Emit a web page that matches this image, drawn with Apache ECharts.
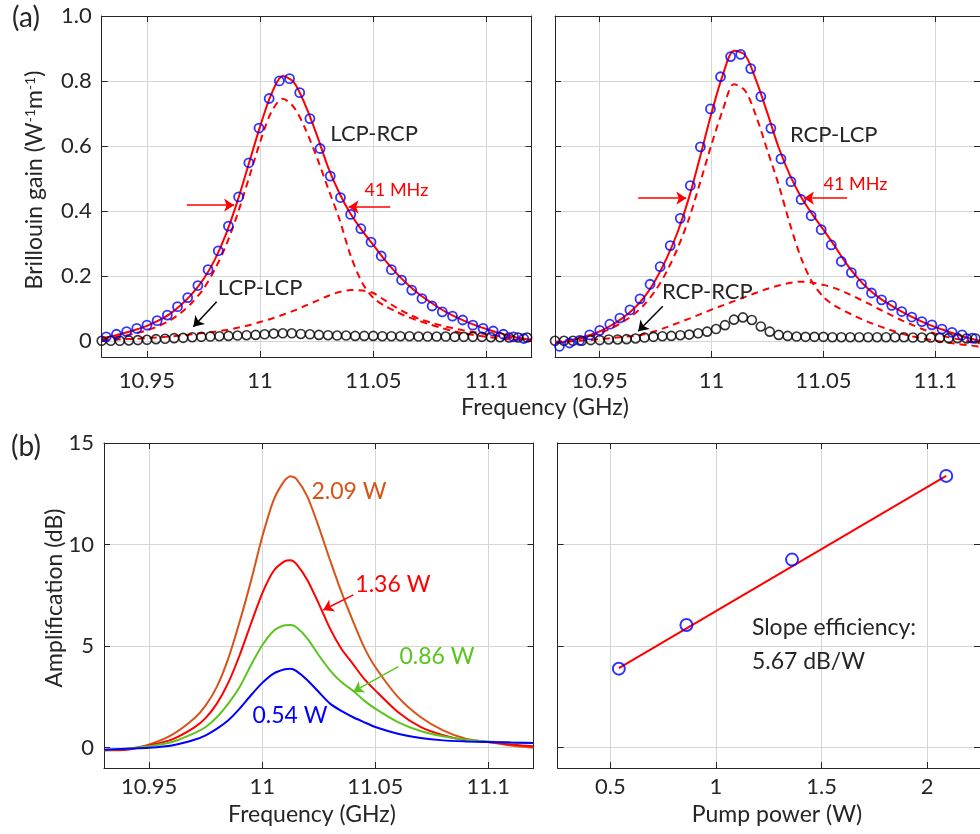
<!DOCTYPE html>
<html><head><meta charset="utf-8">
<script src="https://cdn.jsdelivr.net/npm/echarts@6/dist/echarts.min.js"></script>
<style>html,body{margin:0;padding:0;background:#fff}#main{width:980px;height:834px}</style>
</head><body><div id="main"></div>
<script>
// ---------------- DATA ----------------
// measured frequencies (GHz) of the blue circles (cross-polarised gain)
const fMeasBlue = [10.932,10.9365,10.941,10.9455,10.95,10.9545,10.959,10.9635,10.968,10.9725,10.977,10.9815,10.986,10.9905,10.995,10.9995,11.004,11.0085,11.013,11.0175,11.022,11.0265,11.031,11.0355,11.04,11.0445,11.049,11.0535,11.058,11.0625,11.067,11.0715,11.076,11.0805,11.085,11.0895,11.094,11.0985,11.103,11.1075,11.112,11.1165];
const gainLCPRCP = [0.012,0.02,0.028,0.038,0.048,0.062,0.079,0.105,0.133,0.170,0.219,0.277,0.353,0.443,0.548,0.655,0.746,0.80,0.807,0.764,0.684,0.592,0.507,0.441,0.389,0.345,0.304,0.261,0.219,0.187,0.156,0.130,0.107,0.089,0.076,0.064,0.048,0.038,0.030,0.02,0.012,0.007];
const gainRCPLCP = [-0.017,-0.007,0.001,0.018,0.032,0.051,0.07,0.095,0.129,0.174,0.228,0.293,0.377,0.478,0.597,0.714,0.813,0.875,0.882,0.838,0.752,0.654,0.56,0.49,0.435,0.385,0.342,0.295,0.244,0.21,0.175,0.147,0.126,0.109,0.09,0.073,0.059,0.049,0.036,0.026,0.018,0.008];
// measured frequencies of the black circles (co-polarised gain)
const fMeasBlack = [10.93,10.934,10.938,10.942,10.946,10.95,10.954,10.958,10.962,10.966,10.97,10.974,10.978,10.982,10.986,10.99,10.994,10.998,11.002,11.006,11.01,11.014,11.018,11.022,11.026,11.03,11.034,11.038,11.042,11.046,11.05,11.054,11.058,11.062,11.066,11.07,11.074,11.078,11.082,11.086,11.09,11.094,11.098,11.102,11.106,11.11,11.114,11.118];
const gainLCPLCP = [0,0,0,0.001,0.002,0.003,0.005,0.006,0.008,0.009,0.011,0.012,0.013,0.014,0.015,0.016,0.017,0.018,0.02,0.022,0.023,0.023,0.021,0.02,0.018,0.017,0.016,0.016,0.015,0.015,0.015,0.014,0.014,0.014,0.014,0.013,0.013,0.013,0.013,0.012,0.012,0.012,0.012,0.011,0.011,0.01,0.01,0.01];
const gainRCPRCP = [0,0,0,0,0.002,0.002,0.004,0.004,0.005,0.007,0.010,0.012,0.014,0.015,0.017,0.019,0.023,0.028,0.036,0.048,0.065,0.072,0.064,0.044,0.028,0.018,0.015,0.013,0.012,0.012,0.012,0.011,0.011,0.011,0.011,0.011,0.011,0.011,0.011,0.011,0.01,0.01,0.01,0.009,0.008,0.008,0.007,0.007];
// fitted curves (GHz grid)
const fFit = [10.93,10.935,10.94,10.945,10.95,10.955,10.96,10.965,10.97,10.975,10.98,10.985,10.99,10.995,11.0,11.005,11.01,11.015,11.02,11.025,11.03,11.035,11.04,11.045,11.05,11.055,11.06,11.065,11.07,11.075,11.08,11.085,11.09,11.095,11.1,11.105,11.11,11.115,11.12];
const fitTotalL = [0.008,0.015,0.024,0.034,0.046,0.062,0.082,0.11,0.145,0.19,0.25,0.33,0.43,0.545,0.66,0.76,0.815,0.795,0.725,0.635,0.535,0.455,0.39,0.34,0.295,0.25,0.21,0.175,0.145,0.12,0.097,0.078,0.062,0.048,0.036,0.025,0.016,0.008,0.003];
const fitMainL  = [0.005,0.01,0.015,0.023,0.032,0.045,0.062,0.086,0.118,0.16,0.22,0.295,0.39,0.5,0.612,0.705,0.745,0.718,0.652,0.566,0.47,0.375,0.262,0.18,0.132,0.108,0.09,0.074,0.062,0.05,0.04,0.03,0.023,0.017,0.012,0.008,0.005,0.003,0.001];
const fitSideL  = [0.002,0.003,0.005,0.006,0.008,0.01,0.013,0.016,0.02,0.024,0.028,0.033,0.04,0.048,0.058,0.068,0.08,0.093,0.108,0.123,0.138,0.15,0.156,0.155,0.147,0.125,0.103,0.084,0.068,0.057,0.047,0.039,0.032,0.026,0.02,0.015,0.01,0.007,0.004];
const fitTotalR = [-0.008,-0.002,0.006,0.016,0.029,0.047,0.069,0.097,0.135,0.188,0.255,0.338,0.443,0.57,0.702,0.818,0.893,0.88,0.8,0.7,0.595,0.51,0.443,0.39,0.342,0.292,0.24,0.196,0.16,0.132,0.11,0.09,0.072,0.056,0.042,0.03,0.018,0.008,0.0];
const fitMainR  = [-0.003,0.0,0.005,0.012,0.024,0.038,0.057,0.08,0.112,0.156,0.214,0.288,0.378,0.49,0.605,0.71,0.79,0.77,0.69,0.585,0.48,0.36,0.255,0.18,0.135,0.108,0.09,0.073,0.058,0.045,0.033,0.022,0.013,0.006,0.0,-0.005,-0.01,-0.014,-0.018];
const fitSideR  = [-0.005,-0.003,0.0,0.002,0.005,0.008,0.012,0.015,0.02,0.03,0.042,0.055,0.068,0.082,0.096,0.109,0.122,0.135,0.148,0.16,0.17,0.178,0.182,0.179,0.172,0.162,0.148,0.132,0.115,0.097,0.08,0.063,0.048,0.034,0.022,0.012,0.005,-0.002,-0.008];
// (b) amplification spectra
const fAmp = [10.93,10.94,10.95,10.96,10.97,10.975,10.98,10.985,10.99,10.995,11.0,11.005,11.01,11.0125,11.015,11.02,11.025,11.03,11.035,11.04,11.045,11.05,11.06,11.07,11.08,11.09,11.1,11.11,11.12];
const amp209 = [-0.13,-0.07,0.16,0.63,1.45,2.08,3.02,4.4,6.2,8.2,10.38,12.18,13.17,13.36,13.25,12.35,10.87,9.23,7.67,6.27,4.96,3.97,2.5,1.51,0.85,0.44,0.28,0.11,0.0];
const amp136 = [-0.13,-0.1,0.11,0.4,1.0,1.47,2.18,3.2,4.55,6.1,7.6,8.7,9.18,9.23,9.06,8.24,7.09,5.86,4.87,4.14,3.4,2.82,1.76,1.02,0.61,0.36,0.28,0.16,0.07];
const amp086 = [-0.1,-0.05,0.07,0.28,0.72,1.02,1.51,2.17,2.99,4.06,5.04,5.75,6.03,6.04,5.94,5.37,4.55,3.81,3.23,2.82,2.33,1.92,1.26,0.82,0.56,0.39,0.31,0.26,0.23];
const amp054 = [-0.1,-0.05,0.0,0.11,0.39,0.61,0.94,1.35,1.92,2.58,3.19,3.65,3.86,3.89,3.78,3.32,2.74,2.17,1.81,1.51,1.26,1.02,0.69,0.48,0.36,0.31,0.28,0.25,0.23];
const pumpPower = [0.54,0.86,1.36,2.09];
const peakAmp = [3.89,6.04,9.26,13.38];
const fitPower = [0.54,2.09];
const fitAmp = [3.92,13.38];
// ticks
const freqTicks = [10.95,11,11.05,11.1];
const freqTickLabels = ['10.95','11','11.05','11.1'];
const gainTicks = [0,0.2,0.4,0.6,0.8,1.0];
const gainTickLabels = ['0','0.2','0.4','0.6','0.8','1.0'];
const ampTicks = [0,5,10,15];
const ampTickLabels = ['0','5','10','15'];
const powerTicks = [0.5,1,1.5,2];
const powerTickLabels = ['0.5','1','1.5','2'];

// ---------------- STYLE ----------------
const FONT = 'Lato';
const TXT = '#262626';
const AX = '#262626';
const GRIDC = '#d6d6d6';
const RED = '#ff0000', BLUE = '#0000ff', ORANGE = '#d95319', GREEN = '#5bc41e';

const pair = (xs, ys) => xs.map((x, i) => [x, ys[i]]);
const labelFor = (vals, labels) => v => { const i = vals.findIndex(t => Math.abs(t - v) < 1e-9); return i < 0 ? '' : labels[i]; };

function axisPair(kind, gi, min, max, ticks, labels, showLab, margin) {
  const base = {
    type: 'value', gridIndex: gi, min: min, max: max,
    axisLine: {show: true, onZero: false, lineStyle: {color: AX, width: 1}},
    axisTick: {show: true, inside: true, length: 6, customValues: ticks, lineStyle: {color: AX, width: 1}},
    splitLine: {show: false}
  };
  const main = Object.assign({}, base, {
    position: kind === 'x' ? 'bottom' : 'left',
    axisLabel: {show: showLab, customValues: ticks, formatter: labelFor(ticks, labels),
      fontFamily: FONT, fontSize: 22, color: TXT, margin: margin},
    splitLine: {show: true, lineStyle: {color: GRIDC, width: 1}}
  });
  const opp = Object.assign({}, base, {position: kind === 'x' ? 'top' : 'right', axisLabel: {show: false}});
  return [main, opp];
}

const grids = [
  {left: 101.7, top: 16, width: 430, height: 341},
  {left: 555, top: 16, width: 431.3, height: 341},
  {left: 104, top: 443, width: 429.5, height: 325},
  {left: 557.6, top: 443, width: 433, height: 325}
];
const xAxes = [].concat(
  axisPair('x', 0, 10.93, 11.12, freqTicks, freqTickLabels, true, 13),
  axisPair('x', 1, 10.93, 11.12, freqTicks, freqTickLabels, true, 13),
  axisPair('x', 2, 10.93, 11.12, freqTicks, freqTickLabels, true, 8),
  axisPair('x', 3, 0.25, 2.25, powerTicks, powerTickLabels, true, 8)
);
const yAxes = [].concat(
  axisPair('y', 0, -0.05, 1.0, gainTicks, gainTickLabels, true, 10),
  axisPair('y', 1, -0.05, 1.0, gainTicks, gainTickLabels, false, 10),
  axisPair('y', 2, -1, 15, ampTicks, ampTickLabels, true, 10),
  axisPair('y', 3, -1, 15, ampTicks, ampTickLabels, false, 10)
);

function lineS(gi, data, color, width, dash, extra) {
  return Object.assign({type: 'line', xAxisIndex: 2*gi, yAxisIndex: 2*gi, data: data, smooth: 0.3,
    symbol: 'none', lineStyle: {color: color, width: width, type: dash || 'solid'}, silent: true, z: 2}, extra || {});
}
function scatS(gi, data, color, size, bw, extra) {
  return Object.assign({type: 'scatter', xAxisIndex: 2*gi, yAxisIndex: 2*gi, data: data, symbol: 'circle', symbolSize: size,
    itemStyle: {color: 'rgba(0,0,0,0)', borderColor: color, borderWidth: bw}, silent: true, z: 3}, extra || {});
}
function arrows(list, color) {
  return {silent: true, symbol: ['none', 'arrow'], symbolSize: 10, label: {show: false},
    lineStyle: {color: color, width: 1.5, type: 'solid'}, animation: false,
    data: list.map(a => [{coord: a[0]}, {coord: a[1]}])};
}

const DASH = [7, 5];
const AMPLINE = {smooth: 0.25};
const series = [
  // (a) left
  lineS(0, pair(fFit, fitMainL), RED, 2, DASH),
  lineS(0, pair(fFit, fitSideL), RED, 2, DASH),
  lineS(0, pair(fFit, fitTotalL), RED, 2, null, {markLine: arrows([[[10.9676, 0.4175], [10.9885, 0.4175]], [[11.0575, 0.412], [11.0391, 0.412]]], RED)}),
  scatS(0, pair(fMeasBlack, gainLCPLCP), '#000000', 9, 1.6, {markLine: arrows([[[10.9808, 0.12], [10.9705, 0.043]]], '#000000')}),
  scatS(0, pair(fMeasBlue, gainLCPRCP), BLUE, 9, 1.8),
  // (a) right
  lineS(1, pair(fFit, fitMainR), RED, 2, DASH),
  lineS(1, pair(fFit, fitSideR), RED, 2, DASH),
  lineS(1, pair(fFit, fitTotalR), RED, 2, null, {markLine: arrows([[[10.9672, 0.439], [10.9887, 0.439]], [[11.0606, 0.439], [11.0413, 0.439]]], RED)}),
  scatS(1, pair(fMeasBlack, gainRCPRCP), '#000000', 9, 1.6, {markLine: arrows([[[10.9782, 0.106], [10.9672, 0.029]]], '#000000')}),
  scatS(1, pair(fMeasBlue, gainRCPLCP), BLUE, 9, 1.8),
  // (b) left
  lineS(2, pair(fAmp, amp209), ORANGE, 2, null, AMPLINE),
  lineS(2, pair(fAmp, amp136), RED, 2, null, Object.assign({markLine: arrows([[[11.0403, 7.52], [11.027, 6.78]]], RED)}, AMPLINE)),
  lineS(2, pair(fAmp, amp086), GREEN, 2, null, Object.assign({markLine: arrows([[[11.0602, 3.99], [11.0403, 2.76]]], GREEN)}, AMPLINE)),
  lineS(2, pair(fAmp, amp054), BLUE, 2, null, AMPLINE),
  // (b) right
  lineS(3, pair(fitPower, fitAmp), RED, 2, null, {smooth: false}),
  scatS(3, pair(pumpPower, peakAmp), BLUE, 12, 2)
];

const chart = echarts.init(document.getElementById('main'), null, {width: 980, height: 834});
chart.setOption({
  animation: false,
  backgroundColor: '#ffffff',
  grid: grids,
  xAxis: xAxes,
  yAxis: yAxes,
  series: series
});

function px(gi, x, y) { return chart.convertToPixel({xAxisIndex: 2*gi, yAxisIndex: 2*gi}, [x, y]); }
function txt(x, y, text, color, size, align, rot, rich) {
  const st = {text: text, fill: color, fontFamily: FONT, fontSize: size,
    textAlign: align || 'center', textVerticalAlign: 'middle', align: align || 'center', verticalAlign: 'middle'};
  if (rich) st.rich = rich;
  return {type: 'text', x: x, y: y, rotation: rot || 0, silent: true, z: 100, style: st};
}
function dtxt(gi, x, y, text, color, size, align) {
  const p = px(gi, x, y);
  return txt(p[0], p[1], text, color, size, align);
}
const elements = [
  txt(26, 18, '(a)', TXT, 28),
  txt(26, 447, '(b)', TXT, 28),
  txt(545, 408, 'Frequency (GHz)', TXT, 23),
  txt(312, 815, 'Frequency (GHz)', TXT, 23),
  txt(777, 815, 'Pump power (W)', TXT, 23),
  txt(55, 598, 'Amplification (dB)', TXT, 23, 'center', Math.PI / 2),
  txt(35, 180, '{n|Brillouin gain (W}{s|-1}{n|m}{s|-1}{n|)}', TXT, 23, 'center', Math.PI / 2,
    {n: {fontFamily: FONT, fontSize: 23, color: TXT}, s: {fontFamily: FONT, fontSize: 14, color: TXT, verticalAlign: 'top'}}),
  dtxt(0, 11.0504, 0.636, 'LCP-RCP', TXT, 22),
  dtxt(0, 11.0602, 0.463, '41 MHz', RED, 18),
  dtxt(0, 11.0, 0.163, 'LCP-LCP', TXT, 22),
  dtxt(1, 11.0546, 0.634, 'RCP-LCP', TXT, 22),
  dtxt(1, 11.0643, 0.483, '41 MHz', RED, 18),
  dtxt(1, 10.9981, 0.151, 'RCP-RCP', TXT, 22),
  dtxt(2, 11.0384, 12.59, '2.09 W', ORANGE, 23),
  dtxt(2, 11.0578, 8.01, '1.36 W', RED, 23),
  dtxt(2, 11.0773, 4.47, '0.86 W', GREEN, 23),
  dtxt(2, 11.0123, 1.56, '0.54 W', BLUE, 23),
  dtxt(3, 1.17, 5.89, 'Slope efficiency:', TXT, 23, 'left'),
  dtxt(3, 1.17, 4.22, '5.67 dB/W', TXT, 23, 'left')
];
chart.setOption({graphic: {elements: elements}});
</script></body></html>
